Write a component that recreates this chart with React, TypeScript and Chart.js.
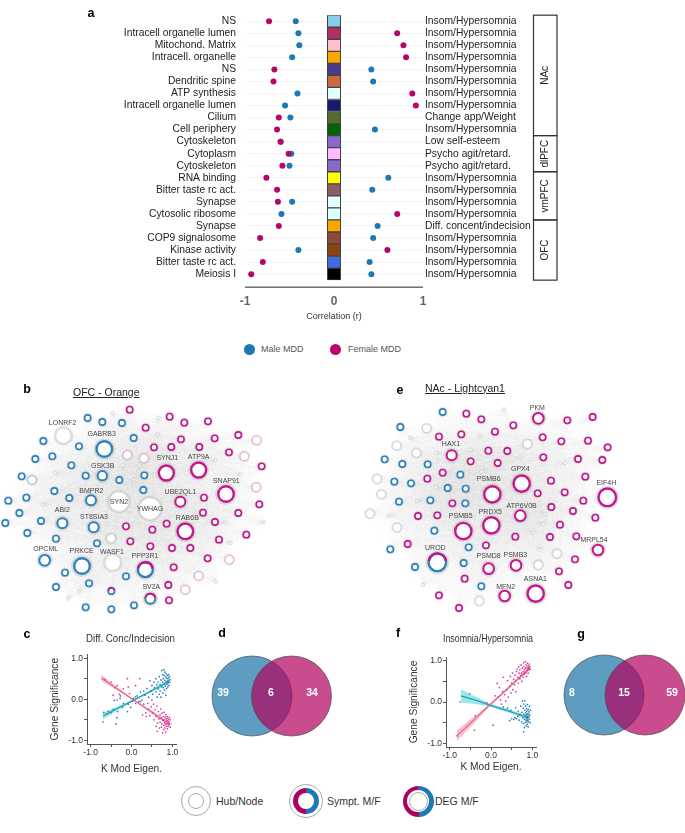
import React, { useEffect, useRef } from "react";
import { Chart, registerables } from "chart.js";

Chart.register(...registerables);

type Pt = [number, number];
type Hub = { name: string; x: number; y: number; size: number; kind: string; lx: number; ly: number };

const FONT = '"Liberation Sans", Arial, sans-serif';
const MALE = "#1f78b4";
const FEMALE = "#b8056c";
const RING_MALE = "#2b84ba";
const RING_FEMALE = "#c7158c";

/* ---------- panel a ---------- */
const termLabels = ["NS", "Intracell organelle lumen", "Mitochond. Matrix", "Intracell. organelle", "NS", "Dendritic spine", "ATP synthesis", "Intracell organelle lumen", "Cilium", "Cell periphery", "Cytoskeleton", "Cytoplasm", "Cytoskeleton", "RNA binding", "Bitter taste rc act.", "Synapse", "Cytosolic ribosome", "Synapse", "COP9 signalosome", "Kinase activity", "Bitter taste rc act.", "Meiosis I"];
const symptomLabels = ["Insom/Hypersomnia", "Insom/Hypersomnia", "Insom/Hypersomnia", "Insom/Hypersomnia", "Insom/Hypersomnia", "Insom/Hypersomnia", "Insom/Hypersomnia", "Insom/Hypersomnia", "Change app/Weight", "Insom/Hypersomnia", "Low self-esteem", "Psycho agit/retard.", "Psycho agit/retard.", "Insom/Hypersomnia", "Insom/Hypersomnia", "Insom/Hypersomnia", "Insom/Hypersomnia", "Diff. concent/indecision", "Insom/Hypersomnia", "Insom/Hypersomnia", "Insom/Hypersomnia", "Insom/Hypersomnia"];
const femaleR = [-0.73, 0.71, 0.78, 0.81, -0.67, -0.68, 0.88, 0.92, -0.62, -0.64, -0.6, -0.51, -0.58, -0.76, -0.64, -0.63, 0.71, -0.62, -0.83, 0.6, -0.8, -0.93];
const maleR = [-0.43, -0.4, -0.39, -0.47, 0.42, 0.44, -0.41, -0.55, -0.49, 0.46, -0.6, -0.48, -0.5, 0.61, 0.43, -0.47, -0.59, 0.49, 0.44, -0.4, 0.4, 0.42];
const moduleColors = ["#87ceeb", "#b03060", "#ffc0cb", "#ffa500", "#483d8b", "#cd6839", "#e0ffff", "#191970", "#556b2f", "#006400", "#8968cd", "#ffbbff", "#8968cd", "#ffff00", "#8b5f65", "#e0ffff", "#e0ffff", "#ffa500", "#8b4c39", "#8b4513", "#4169e1", "#000000"];
const regionNames = ["NAc", "dlPFC", "vmPFC", "OFC"];
const regionFirstRow = [0, 10, 13, 17];
const regionLastRow = [9, 12, 16, 21];

/* ---------- panel b (OFC - Orange) ---------- */
const bFemale: Pt[] = [[389, 104], [509, 125], [553, 143], [624, 139], [437, 158], [715, 180], [644, 190], [543, 193], [462, 217], [514, 216], [598, 216], [687, 232], [785, 274], [778, 388], [715, 414], [612, 368], [609, 413], [645, 441], [739, 479], [657, 494], [500, 446], [457, 464], [378, 454], [391, 499], [451, 514], [516, 519], [571, 519], [623, 550], [521, 577], [505, 630], [507, 676]];
const bMale: Pt[] = [[263, 129], [307, 141], [366, 144], [130, 198], [401, 189], [237, 214], [157, 244], [106, 252], [214, 271], [257, 302], [358, 315], [65, 304], [433, 301], [430, 345], [163, 348], [208, 369], [79, 368], [25, 377], [58, 414], [123, 438], [16, 444], [82, 474], [168, 491], [291, 505], [195, 593], [378, 604], [267, 625], [168, 636], [257, 697], [334, 703], [402, 691]];
const bBothSmall: Pt[] = [[334, 648]];
const bFaintFemale: Pt[] = [[770, 196], [733, 244], [769, 337], [688, 554], [596, 603], [556, 644], [382, 240], [432, 250]];
const bFaintMale: Pt[] = [[96, 315]];
const bFaintGray: Pt[] = [];
const bTiny: Pt[] = [[338, 114], [477, 128], [473, 176], [165, 293], [368, 271], [418, 271], [402, 314], [128, 388], [645, 255], [722, 297], [677, 443], [792, 442], [692, 504], [647, 620], [236, 651], [204, 671]];
const bHubs: Hub[] = [
  { name: "LONRF2", x: 190, y: 182, size: 24, kind: "gray", lx: 188, ly: 145 },
  { name: "SYN2", x: 357, y: 380, size: 30, kind: "white", lx: 357, ly: 380 },
  { name: "YWHAG", x: 450, y: 401, size: 33, kind: "white", lx: 450, ly: 401 },
  { name: "WASF1", x: 338, y: 563, size: 24, kind: "white", lx: 336, ly: 530 },
  { name: "", x: 333, y: 490, size: 13, kind: "white", lx: 333, ly: 490 },
  { name: "GABRB3", x: 313, y: 222, size: 27, kind: "male", lx: 305, ly: 178 },
  { name: "GSK3B", x: 307, y: 302, size: 17, kind: "male", lx: 308, ly: 272 },
  { name: "BMPR2", x: 273, y: 376, size: 18, kind: "male", lx: 274, ly: 347 },
  { name: "ABI2", x: 187, y: 445, size: 18, kind: "male", lx: 187, ly: 406 },
  { name: "ST8SIA3", x: 281, y: 457, size: 18, kind: "male", lx: 282, ly: 427 },
  { name: "OPCML", x: 134, y: 556, size: 19, kind: "male", lx: 137, ly: 521 },
  { name: "PRKCE", x: 246, y: 573, size: 27, kind: "male", lx: 245, ly: 529 },
  { name: "SYNJ1", x: 499, y: 294, size: 26, kind: "female", lx: 502, ly: 249 },
  { name: "ATP9A", x: 596, y: 285, size: 26, kind: "female", lx: 596, ly: 245 },
  { name: "SNAP91", x: 678, y: 357, size: 27, kind: "female", lx: 679, ly: 317 },
  { name: "UBE2QL1", x: 541, y: 380, size: 18, kind: "female", lx: 541, ly: 350 },
  { name: "RAB6B", x: 556, y: 469, size: 27, kind: "female", lx: 562, ly: 428 },
  { name: "PPP3R1", x: 436, y: 584, size: 26, kind: "both", lx: 435, ly: 542 },
  { name: "SV2A", x: 451, y: 671, size: 18, kind: "both", lx: 454, ly: 636 },
];

/* ---------- panel e (NAc - Lightcyan1) ---------- */
const eFemale: Pt[] = [[349, 116], [394, 133], [490, 151], [652, 136], [728, 126], [267, 185], [334, 178], [435, 170], [578, 187], [634, 199], [714, 197], [773, 217], [415, 227], [472, 228], [362, 259], [443, 264], [580, 247], [684, 252], [757, 255], [278, 293], [232, 311], [706, 305], [603, 317], [563, 355], [644, 352], [700, 377], [307, 385], [604, 396], [669, 408], [204, 423], [262, 421], [736, 428], [630, 449], [496, 485], [600, 486], [679, 484], [173, 507], [408, 511], [675, 553], [627, 589], [655, 630], [344, 611], [267, 661], [327, 699]];
const eMale: Pt[] = [[278, 111], [151, 156], [104, 253], [157, 267], [233, 268], [331, 299], [133, 320], [183, 325], [293, 339], [347, 341], [147, 380], [241, 376], [346, 385], [253, 467], [356, 517], [121, 523], [195, 576], [341, 564], [394, 634]];
const eFaintGray: Pt[] = [[230, 160], [140, 212], [199, 234], [81, 312], [94, 358], [60, 416], [141, 458], [532, 207], [621, 536], [565, 570], [388, 678]];
const eTiny: Pt[] = [[462, 103], [180, 188], [390, 181], [362, 224], [259, 233], [510, 246], [646, 264], [395, 290], [259, 336], [201, 378], [115, 423], [586, 417], [579, 448], [550, 473], [571, 524], [219, 630]];
const eHubs: Hub[] = [
  { name: "PKM", x: 565, y: 130, size: 19, kind: "female", lx: 562, ly: 99 },
  { name: "HAX1", x: 305, y: 241, size: 18, kind: "female", lx: 303, ly: 208 },
  { name: "GPX4", x: 515, y: 326, size: 28, kind: "female", lx: 511, ly: 281 },
  { name: "PSMB6", x: 427, y: 358, size: 28, kind: "female", lx: 416, ly: 311 },
  { name: "EIF4H", x: 772, y: 367, size: 30, kind: "female", lx: 769, ly: 325 },
  { name: "ATP6V0B", x: 511, y: 422, size: 19, kind: "female", lx: 515, ly: 393 },
  { name: "PSMB5", x: 340, y: 468, size: 28, kind: "female", lx: 332, ly: 424 },
  { name: "PRDX5", x: 424, y: 451, size: 28, kind: "female", lx: 421, ly: 411 },
  { name: "MRPL54", x: 744, y: 525, size: 19, kind: "female", lx: 732, ly: 495 },
  { name: "UROD", x: 262, y: 562, size: 30, kind: "both", lx: 256, ly: 519 },
  { name: "PSMD8", x: 416, y: 581, size: 19, kind: "female", lx: 416, ly: 543 },
  { name: "PSMB3", x: 498, y: 571, size: 19, kind: "female", lx: 496, ly: 541 },
  { name: "MFN2", x: 464, y: 663, size: 19, kind: "female", lx: 467, ly: 636 },
  { name: "ASNA1", x: 557, y: 656, size: 28, kind: "female", lx: 556, ly: 613 },
];

/* ---------- panel c ---------- */
const cMalePoints: Pt[] = [[-0.7, -0.55], [-0.68, -0.32], [-0.6, -0.36], [-0.57, -0.3], [-0.5, -0.33], [-0.45, -0.25], [-0.38, -0.6], [-0.36, -0.45], [-0.34, -0.3], [-0.42, -0.03], [-0.35, -0.02], [-0.28, 0.02], [-0.22, -0.2], [-0.2, -0.1], [-0.1, -0.3], [-0.08, -0.12], [-0.02, -0.2], [0.02, -0.05], [0.05, 0.02], [0.1, -0.1], [0.14, 0.08], [0.18, -0.05], [0.22, 0.18], [0.26, -0.02], [0.3, 0.2], [0.33, 0.1], [0.38, 0.26], [0.42, 0.05], [0.45, 0.45], [0.48, 0.2], [0.5, 0.33], [0.52, 0.12], [0.55, 0.42], [0.56, 0.28], [0.6, 0.5], [0.6, 0.18], [0.62, 0.35], [0.63, 0.05], [0.65, 0.42], [0.66, 0.25], [0.68, 0.55], [0.68, 0.12], [0.7, 0.36], [0.7, 0.2], [0.72, 0.47], [0.72, 0.05], [0.74, 0.7], [0.74, 0.3], [0.76, 0.6], [0.76, 0.42], [0.77, 0.15], [0.78, 0.5], [0.78, 0.28], [0.79, 0.72], [0.8, 0.38], [0.8, 0.58], [0.81, 0.22], [0.82, 0.46], [0.82, 0.66], [0.83, 0.32], [0.84, 0.54], [0.84, 0.1], [0.85, 0.42], [0.85, 0.62], [0.86, 0.26], [0.87, 0.5], [0.87, 0.36], [0.88, 0.58], [0.88, 0.44], [0.89, 0.3], [0.9, 0.52], [0.9, 0.4], [0.91, 0.6], [0.92, 0.46], [0.92, 0.34], [0.93, 0.55], [0.94, 0.42], [0.94, 0.48]];
const cFemalePoints: Pt[] = [[-0.65, 0.48], [-0.5, 0.42], [-0.45, 0.1], [-0.4, 0.28], [-0.35, 0.33], [-0.3, 0.12], [-0.27, 0.08], [-0.2, 0.25], [-0.1, 0.5], [-0.08, 0.3], [-0.05, 0.14], [0.1, 0.33], [0.1, 0.06], [0.2, 0.5], [0.22, -0.06], [0.27, -0.38], [0.3, -0.12], [0.36, -0.42], [0.35, -0.33], [0.4, -0.1], [0.42, -0.24], [0.45, -0.4], [0.48, -0.18], [0.5, -0.02], [0.52, -0.32], [0.54, -0.12], [0.55, -0.5], [0.58, -0.25], [0.6, -0.66], [0.6, -0.42], [0.62, -0.16], [0.63, -0.78], [0.64, -0.58], [0.66, -0.3], [0.67, -0.48], [0.68, -0.7], [0.7, -0.38], [0.7, -0.56], [0.72, -0.24], [0.73, -0.46], [0.73, -0.68], [0.74, -0.6], [0.75, -0.34], [0.76, -0.82], [0.77, -0.52], [0.78, -0.42], [0.78, -0.64], [0.79, -0.74], [0.8, -0.5], [0.8, -0.32], [0.81, -0.58], [0.82, -0.44], [0.82, -0.7], [0.83, -0.62], [0.84, -0.38], [0.84, -0.8], [0.85, -0.54], [0.85, -0.48], [0.86, -0.66], [0.87, -0.42], [0.87, -0.6], [0.88, -0.52], [0.88, -0.72], [0.89, -0.46], [0.9, -0.58], [0.9, -0.66], [0.91, -0.5], [0.92, -0.62], [0.92, -0.55], [0.93, -0.44], [0.94, -0.6], [0.95, -0.5], [0.95, -0.68]];
const cFemaleFitX = [-0.74, -0.4, 0, 0.4, 0.92];
const cFemaleFit = [0.52, 0.29, 0.02, -0.25, -0.6];
const cFemaleHigh = [0.6, 0.33, 0.04, -0.22, -0.55];
const cFemaleLow = [0.44, 0.25, 0, -0.28, -0.65];
const cMaleFitX = [-0.7, -0.3, 0, 0.4, 0.92];
const cMaleFit = [-0.41, -0.2, -0.05, 0.16, 0.43];
const cMaleHigh = [-0.33, -0.15, -0.02, 0.19, 0.48];
const cMaleLow = [-0.49, -0.25, -0.08, 0.13, 0.38];

/* ---------- panel f ---------- */
const fMalePoints: Pt[] = [[-0.75, 0.0], [-0.52, 0.2], [0.05, -0.56], [0.3, -0.12], [0.4, -0.15], [0.45, -0.45], [0.48, -0.2], [0.5, -0.4], [0.55, -0.42], [0.58, -0.38], [0.6, -0.14], [0.62, -0.4], [0.65, -0.35], [0.66, -0.22], [0.68, -0.44], [0.7, -0.3], [0.72, -0.1], [0.74, -0.48], [0.75, -0.25], [0.76, 0.02], [0.77, -0.38], [0.78, -0.15], [0.78, -0.52], [0.79, -0.72], [0.8, -0.3], [0.8, -0.05], [0.81, -0.62], [0.81, -0.42], [0.82, 0.03], [0.82, -0.2], [0.83, -0.34], [0.83, -0.5], [0.84, -0.1], [0.84, -0.26], [0.85, -0.44], [0.85, -0.58], [0.85, -0.36], [0.86, -0.16], [0.86, -0.3], [0.87, -0.48], [0.87, -0.22], [0.87, -0.4], [0.88, -0.06], [0.88, -0.34], [0.88, -0.54], [0.89, -0.28], [0.89, -0.44], [0.9, -0.18], [0.9, -0.38], [0.9, -0.6], [0.91, -0.3], [0.91, -0.48], [0.92, -0.24], [0.92, -0.36], [0.93, -0.42], [0.93, -0.1], [0.94, -0.32], [0.95, -0.5], [0.95, -0.2]];
const fFemalePoints: Pt[] = [[-0.82, -0.82], [-0.4, -0.68], [-0.38, -0.33], [-0.1, -0.02], [0.1, 0.15], [0.15, 0.45], [0.18, 0.12], [0.2, 0.35], [0.23, 0.05], [0.25, -0.05], [0.28, 0.25], [0.3, 0.6], [0.33, 0.18], [0.36, 0.02], [0.38, 0.3], [0.4, 0.52], [0.42, 0.12], [0.45, 0.38], [0.47, 0.62], [0.48, 0.22], [0.5, 0.46], [0.52, 0.7], [0.53, 0.3], [0.55, 0.55], [0.57, 0.42], [0.58, 0.65], [0.6, 0.25], [0.6, 0.52], [0.62, 0.74], [0.63, 0.8], [0.65, 0.6], [0.66, 0.46], [0.67, 0.85], [0.68, 0.7], [0.7, 0.56], [0.7, 0.78], [0.72, 0.64], [0.73, 0.9], [0.74, 0.7], [0.75, 0.5], [0.76, 0.82], [0.77, 0.6], [0.78, 0.74], [0.79, 0.95], [0.8, 0.66], [0.8, 0.86], [0.81, 0.78], [0.82, 0.7], [0.83, 0.98], [0.84, 0.82], [0.85, 0.72], [0.85, 0.9], [0.86, 0.62], [0.87, 0.84], [0.88, 0.76], [0.88, 0.94], [0.89, 0.8], [0.9, 0.88], [0.9, 0.7], [0.91, 0.84], [0.92, 0.78], [0.93, 0.92], [0.93, 0.82], [0.94, 0.86], [0.95, 0.8]];
const fFemaleFitX = [-0.83, -0.4, -0.05, 0.4, 0.94];
const fFemaleFit = [-0.82, -0.42, -0.09, 0.32, 0.83];
const fFemaleHigh = [-0.69, -0.34, -0.06, 0.35, 0.87];
const fFemaleLow = [-0.95, -0.5, -0.12, 0.29, 0.79];
const fMaleFitX = [-0.73, -0.3, -0.05, 0.4, 0.9];
const fMaleFit = [0.15, 0.02, -0.07, -0.21, -0.38];
const fMaleHigh = [0.31, 0.1, -0.03, -0.17, -0.32];
const fMaleLow = [-0.01, -0.06, -0.11, -0.25, -0.44];

/* ---------- panels d and g ---------- */
const vennDCounts = ["39", "6", "34"];
const vennGCounts = ["8", "15", "59"];

const baseOptions = (): any => ({
  responsive: false,
  animation: false,
  devicePixelRatio: 1,
  events: [],
});
const noAuto = { autoPadding: false };
const quiet = { legend: { display: false }, tooltip: { enabled: false } };
const toXY = (pts: Pt[]) => pts.map(([x, y]) => ({ x, y }));

function ChartCanvas({ left, top, width, height, make, blur = 0 }: any) {
  const ref = useRef<HTMLCanvasElement | null>(null);
  useEffect(() => {
    const chart = new Chart(ref.current as HTMLCanvasElement, make());
    return () => chart.destroy();
  }, []);
  return (
    <canvas
      ref={ref}
      width={width}
      height={height}
      style={{ position: "absolute", left, top, width, height, filter: blur ? `blur(${blur}px)` : undefined }}
    />
  );
}

/* ---------- panel a chart ---------- */
const makeDotChart = () => {
  const regionPlugin = {
    id: "regions",
    afterDraw(chart: any) {
      const { ctx, scales } = chart;
      const y = scales.y;
      ctx.save();
      ctx.lineWidth = 1;
      ctx.beginPath();
      ctx.moveTo(scales.x.left, y.bottom + 7);
      ctx.lineTo(scales.x.right, y.bottom + 7);
      ctx.strokeStyle = "#222";
      ctx.stroke();
      regionNames.forEach((name, i) => {
        const a = y.getPixelForValue(regionFirstRow[i] - 0.5);
        const b = y.getPixelForValue(regionLastRow[i] + 0.5);
        ctx.strokeStyle = "#333";
        ctx.lineWidth = 1.2;
        ctx.strokeRect(533.5, a, 23.5, b - a);
        ctx.save();
        ctx.translate(545.5, (a + b) / 2);
        ctx.rotate(-Math.PI / 2);
        ctx.fillStyle = "#222";
        ctx.font = `10px ${FONT}`;
        ctx.textAlign = "center";
        ctx.textBaseline = "middle";
        ctx.fillText(name, 0, 0);
        ctx.restore();
      });
      ctx.restore();
    },
  };
  return {
    type: "bar",
    data: {
      labels: termLabels,
      datasets: [
        { type: "scatter", label: "Female MDD", data: femaleR.map((x, i) => ({ x, y: i })), backgroundColor: FEMALE, pointRadius: 3, pointBorderWidth: 0 },
        { type: "scatter", label: "Male MDD", data: maleR.map((x, i) => ({ x, y: i })), backgroundColor: MALE, pointRadius: 3, pointBorderWidth: 0 },
        { type: "bar", label: "Module", data: moduleColors.map(() => [-0.075, 0.075]), backgroundColor: moduleColors, borderColor: "#444", borderWidth: 1, categoryPercentage: 1, barPercentage: 1, borderSkipped: false },
      ],
    },
    options: {
      ...baseOptions(),
      indexAxis: "y",
      layout: { ...noAuto, padding: { top: 9.85 } },
      plugins: quiet,
      scales: {
        x: {
          type: "linear",
          min: -1,
          max: 1,
          border: { display: false },
          grid: { display: false },
          ticks: { stepSize: 1, padding: 6, color: "#666", font: { family: FONT, size: 12, weight: "bold" }, callback: (v: number) => String(v) },
          title: { display: true, text: "Correlation (r)", color: "#333", font: { family: FONT, size: 9 }, padding: { top: 0, bottom: 8 } },
          afterFit: (s: any) => { s.height = 49.85; },
        },
        y: {
          type: "category",
          position: "left",
          offset: true,
          border: { display: false },
          grid: { color: "#f3f3f3", offset: false, drawTicks: false },
          ticks: { padding: 9, color: "#222", autoSkip: false, font: { family: FONT, size: 10.3 } },
          afterFit: (s: any) => { s.width = 245; },
        },
        yRight: {
          type: "category",
          position: "right",
          labels: symptomLabels,
          offset: true,
          border: { display: false },
          grid: { display: false, drawTicks: false },
          ticks: { padding: 2, color: "#222", autoSkip: false, font: { family: FONT, size: 10.3 } },
          afterFit: (s: any) => { s.width = 262; },
        },
      },
    },
    plugins: [regionPlugin],
  };
};

/* ---------- network charts (b and e) ---------- */
const smallStyle: Record<string, any> = {
  female: { r: 3.1, bw: 1.6, color: RING_FEMALE },
  male: { r: 3.1, bw: 1.6, color: RING_MALE },
  both: { r: 3.1, bw: 1.6, color: RING_MALE },
  faintFemale: { r: 4.3, bw: 0.9, color: "#e4a6cf" },
  faintMale: { r: 4.3, bw: 0.9, color: "#86bbdb" },
  faintGray: { r: 4.2, bw: 0.9, color: "#d2d2d2" },
  tiny: { r: 1.5, bw: 0.7, color: "#d4d4d4" },
};

const makeNetwork = (hubs: Hub[], groups: Record<string, Pt[]>, xMax: number) => () => {
  const all: Pt[] = [...hubs.map((h) => [h.x, h.y] as Pt), ...Object.values(groups).flat()];
  const ringWidth = (h: Hub) => (h.kind === "white" || h.kind === "gray" ? 0.8 : h.size > 22 ? 2.4 : 2);
  const ringRadius = (h: Hub) => h.size / 3 - ringWidth(h) / 2;
  const ringColor = (h: Hub) => (h.kind === "female" ? RING_FEMALE : h.kind === "male" || h.kind === "both" ? RING_MALE : h.kind === "gray" ? "#cfcfcf" : "#e2e2e2");
  const smallSets = Object.entries(groups).map(([kind, pts]) => ({
    label: kind,
    data: toXY(pts),
    pointRadius: smallStyle[kind].r,
    pointBorderWidth: smallStyle[kind].bw,
    pointBorderColor: smallStyle[kind].color,
    pointBackgroundColor: "#fff",
  }));
  const halo = {
    label: "halo",
    data: [...hubs.map((h) => ({ x: h.x, y: h.y })), ...Object.entries(groups).flatMap(([, p]) => toXY(p))],
    pointRadius: [
      ...hubs.map((h) => h.size / 3 + 1.8),
      ...Object.entries(groups).flatMap(([k, p]) => p.map(() => smallStyle[k].r + smallStyle[k].bw / 2 + (k === "tiny" ? 0.2 : 1))),
    ],
    pointBorderWidth: 0,
    pointBackgroundColor: "rgba(175,175,175,0.36)",
  };
  const plugin = {
    id: "network",
    beforeDatasetsDraw(chart: any) {
      const { ctx, scales } = chart;
      ctx.save();
      ctx.strokeStyle = "rgba(120,120,120,0.02)";
      ctx.lineWidth = 0.6;
      ctx.beginPath();
      for (let i = 0; i < all.length; i++) {
        for (let j = i + 1; j < all.length; j++) {
          ctx.moveTo(scales.x.getPixelForValue(all[i][0]), scales.y.getPixelForValue(all[i][1]));
          ctx.lineTo(scales.x.getPixelForValue(all[j][0]), scales.y.getPixelForValue(all[j][1]));
          ctx.stroke();
          ctx.beginPath();
        }
      }
      ctx.restore();
    },
    afterDatasetsDraw(chart: any) {
      const { ctx, scales } = chart;
      ctx.save();
      const arcTop = (x: number, y: number, r: number, w: number) => {
        ctx.strokeStyle = RING_FEMALE;
        ctx.lineWidth = w;
        ctx.beginPath();
        ctx.arc(scales.x.getPixelForValue(x), scales.y.getPixelForValue(y), r, Math.PI * 1.05, Math.PI * 1.95);
        ctx.stroke();
      };
      hubs.filter((h) => h.kind === "both").forEach((h) => arcTop(h.x, h.y, ringRadius(h), ringWidth(h)));
      (groups.both || []).forEach(([x, y]) => arcTop(x, y, smallStyle.both.r, smallStyle.both.bw));
      ctx.fillStyle = "#444";
      ctx.font = `7px ${FONT}`;
      ctx.textAlign = "center";
      ctx.textBaseline = "middle";
      hubs.forEach((h) => {
        if (h.name) ctx.fillText(h.name, scales.x.getPixelForValue(h.lx), scales.y.getPixelForValue(h.ly));
      });
      ctx.restore();
    },
  };
  return {
    type: "scatter",
    data: {
      datasets: [
        {
          label: "hubs",
          data: hubs.map((h) => ({ x: h.x, y: h.y })),
          pointRadius: hubs.map(ringRadius),
          pointBorderWidth: hubs.map(ringWidth),
          pointBorderColor: hubs.map(ringColor),
          pointBackgroundColor: "#fff",
        },
        ...smallSets,
        halo,
      ],
    },
    options: {
      ...baseOptions(),
      layout: noAuto,
      plugins: quiet,
      scales: {
        x: { type: "linear", display: false, min: 0, max: xMax },
        y: { type: "linear", display: false, min: 0, max: 750, reverse: true },
      },
    },
    plugins: [plugin],
  };
};

/* ---------- regression scatter charts (c and f) ---------- */
const BLUE_BAND = "rgba(105,222,222,0.68)";
const PINK_BAND = "rgba(250,160,175,0.68)";
const makeScatter = (o: any) => () => {
  const series = (xs: number[], ys: number[]) => xs.map((x, i) => ({ x, y: ys[i] }));
  const band = (label: string, xs: number[], ys: number[], color: string, fill: any) => ({
    label, data: series(xs, ys), showLine: true, pointRadius: 0, borderWidth: 0, backgroundColor: color, fill,
  });
  const line = (label: string, xs: number[], ys: number[], color: string) => ({
    label, data: series(xs, ys), showLine: true, pointRadius: 0, borderWidth: 1.2, borderColor: color, fill: false,
  });
  const shift = {
    id: "titleShift",
    afterLayout(chart: any) {
      if (chart.titleBlock) {
        chart.titleBlock.left += o.titleDx;
        chart.titleBlock.right += o.titleDx;
      }
    },
  };
  const axis = (text: string, extra: any) => ({
    type: "linear",
    min: o.min,
    max: o.max,
    border: { color: "#555", width: 1 },
    grid: { drawOnChartArea: false, tickLength: 3, tickColor: "#555", tickWidth: 1 },
    ticks: {
      stepSize: 0.5,
      includeBounds: false,
      autoSkip: false,
      maxRotation: 0,
      padding: 1,
      color: "#333",
      font: { family: FONT, size: 8.5 },
      callback: (v: number) => (Math.abs(v % 1) < 1e-6 ? v.toFixed(1) : ""),
    },
    title: { display: true, text, color: "#333", font: { family: FONT, size: 10.2 }, padding: { top: 2, bottom: o.xTitlePad } },
    ...extra,
  });
  return {
    type: "scatter",
    data: {
      datasets: [
        { label: "Female points", data: toXY(o.female), pointRadius: 0.85, pointBorderWidth: 0, backgroundColor: "#d93b95" },
        { label: "Male points", data: toXY(o.male), pointRadius: 0.85, pointBorderWidth: 0, backgroundColor: "#2a7fb6" },
        line("Female fit", o.fFitX, o.fFit, "#e0658f"),
        line("Male fit", o.mFitX, o.mFit, "#2a9ab4"),
        band("Male band high", o.mFitX, o.mHigh, BLUE_BAND, "+1"),
        band("Male band low", o.mFitX, o.mLow, BLUE_BAND, false),
        band("Female band high", o.fFitX, o.fHigh, PINK_BAND, "+1"),
        band("Female band low", o.fFitX, o.fLow, PINK_BAND, false),
      ],
    },
    options: {
      ...baseOptions(),
      layout: { ...noAuto, padding: { right: o.padRight } },
      plugins: {
        ...quiet,
        title: {
          display: true,
          text: o.title,
          fullSize: false,
          color: "#333",
          font: { family: FONT, size: o.titleSize, weight: "normal" },
          padding: { top: o.titleTop, bottom: o.titleBottom },
        },
      },
      scales: {
        x: axis("K Mod Eigen.", { afterFit: (s: any) => { s.height = o.xAxisHeight; } }),
        y: axis("Gene Significance", { afterFit: (s: any) => { s.width = o.yAxisWidth; } }),
      },
    },
    plugins: [shift],
  };
};

/* ---------- venn charts (d and g) ---------- */
const makeVenn = (o: any) => () => {
  const plugin = {
    id: "vennLabels",
    afterDatasetsDraw(chart: any) {
      const { ctx, scales } = chart;
      ctx.save();
      ctx.fillStyle = "#fff";
      ctx.font = `bold 10.5px ${FONT}`;
      ctx.textAlign = "center";
      ctx.textBaseline = "middle";
      o.counts.forEach((c: string, i: number) => ctx.fillText(c, scales.x.getPixelForValue(o.labelX[i]), scales.y.getPixelForValue(o.labelY)));
      ctx.restore();
    },
  };
  return {
    type: "bubble",
    data: {
      datasets: [
        { label: "Female", data: [o.female], backgroundColor: "rgba(178,2,94,0.7)", borderColor: "#4a4a4a", borderWidth: 0.7 },
        { label: "Male", data: [o.male], backgroundColor: "rgba(26,114,168,0.7)", borderColor: "#4a4a4a", borderWidth: 0.7 },
      ],
    },
    options: {
      ...baseOptions(),
      layout: noAuto,
      plugins: quiet,
      clip: false,
      scales: {
        x: { type: "linear", display: false, min: 0, max: o.w },
        y: { type: "linear", display: false, min: 0, max: o.h, reverse: true },
      },
    },
    plugins: [plugin],
  };
};

/* ---------- small html helpers ---------- */
const text = (t: string, left: number, cy: number, size: number, extra: any = {}) => (
  <div style={{ position: "absolute", left, top: cy - size, lineHeight: `${size * 2}px`, fontSize: size, fontFamily: FONT, whiteSpace: "nowrap", color: "#333", ...extra }}>{t}</div>
);
const letter = (t: string, cx: number, cy: number) => text(t, cx - 10, cy, 12.5, { width: 20, textAlign: "center", fontWeight: "bold", color: "#000" });
const circle = (cx: number, cy: number, r: number, style: any) => (
  <div style={{ position: "absolute", left: cx - r, top: cy - r, width: 2 * r, height: 2 * r, borderRadius: "50%", boxSizing: "border-box", ...style }} />
);
const SPLIT = "conic-gradient(#1f78b4 0 50%, #b0005f 50% 100%)";

export default function App() {
  return (
    <div style={{ position: "absolute", left: 0, top: 0, width: 685, height: 833, overflow: "hidden", background: "#fff" }}>
      <ChartCanvas left={0} top={0} width={685} height={330} make={makeDotChart} />
      {letter("a", 91, 13)}
      {circle(249.5, 349, 5.5, { background: MALE })}
      {text("Male MDD", 261, 349, 9, { color: "#555" })}
      {circle(335.5, 349, 5.5, { background: FEMALE })}
      {text("Female MDD", 348, 349, 9, { color: "#555" })}

      <ChartCanvas left={0} top={375} width={290} height={250} blur={0.3} make={makeNetwork(bHubs, { female: bFemale, male: bMale, both: bBothSmall, faintFemale: bFaintFemale, faintMale: bFaintMale, faintGray: bFaintGray, tiny: bTiny }, 870)} />
      <ChartCanvas left={350} top={375} width={300} height={250} blur={0.3} make={makeNetwork(eHubs, { female: eFemale, male: eMale, faintGray: eFaintGray, tiny: eTiny }, 900)} />
      {letter("b", 27, 389)}
      {letter("e", 400, 390)}
      {text("OFC - Orange", 73, 392, 10.5, { textDecoration: "underline", color: "#222" })}
      {text("NAc - Lightcyan1", 425, 388, 10.5, { textDecoration: "underline", color: "#222" })}

      <ChartCanvas left={47} top={630} width={165} height={145} make={makeScatter({ female: cFemalePoints, male: cMalePoints, fFitX: cFemaleFitX, fFit: cFemaleFit, fHigh: cFemaleHigh, fLow: cFemaleLow, mFitX: cMaleFitX, mFit: cMaleFit, mHigh: cMaleHigh, mLow: cMaleLow, min: -1.09, max: 1.09, title: "Diff. Conc/Indecision", titleSize: 10.4, titleDx: -1, titleTop: 3, titleBottom: 9, padRight: 36, xAxisHeight: 31, yAxisWidth: 40, xTitlePad: 0 })} />
      <ChartCanvas left={406} top={630} width={160} height={145} make={makeScatter({ female: fFemalePoints, male: fMalePoints, fFitX: fFemaleFitX, fFit: fFemaleFit, fHigh: fFemaleHigh, fLow: fFemaleLow, mFitX: fMaleFitX, mFit: fMaleFit, mHigh: fMaleHigh, mLow: fMaleLow, min: -1.09, max: 1.09, title: "Insomnia/Hypersomnia", titleSize: 11.2, titleDx: -3, titleTop: 2, titleBottom: 11.6, padRight: 30, xAxisHeight: 28, yAxisWidth: 40, xTitlePad: 2 })} />
      {letter("c", 27, 634)}
      {letter("d", 222, 633)}
      {letter("f", 398, 633)}
      {letter("g", 581, 634)}

      <ChartCanvas left={205} top={650} width={135} height={95} make={makeVenn({ w: 135, h: 95, male: { x: 47, y: 46, r: 40 }, female: { x: 86.5, y: 46, r: 40 }, counts: vennDCounts, labelX: [18, 66, 107], labelY: 43 })} />
      <ChartCanvas left={555} top={650} width={130} height={95} make={makeVenn({ w: 130, h: 95, male: { x: 49, y: 45, r: 40 }, female: { x: 90, y: 45, r: 40 }, counts: vennGCounts, labelX: [17, 69, 117], labelY: 43 })} />

      {circle(196, 801, 15, { border: "1px solid #aaa" })}
      {circle(196, 801, 8, { border: "1.5px solid #aaa" })}
      {text("Hub/Node", 216, 801, 10.5)}
      {circle(306, 801, 17, { border: "1px solid #aaa" })}
      {circle(306, 801, 13, { background: SPLIT })}
      {circle(306, 801, 8, { background: "#fff" })}
      {text("Sympt. M/F", 327, 801, 10.5)}
      {circle(418, 801, 15.5, { background: SPLIT })}
      {circle(418, 801, 11, { background: "#fff" })}
      {circle(418, 801, 9.5, { border: "1.2px solid #aaa" })}
      {text("DEG M/F", 435, 801, 10.5)}
    </div>
  );
}
